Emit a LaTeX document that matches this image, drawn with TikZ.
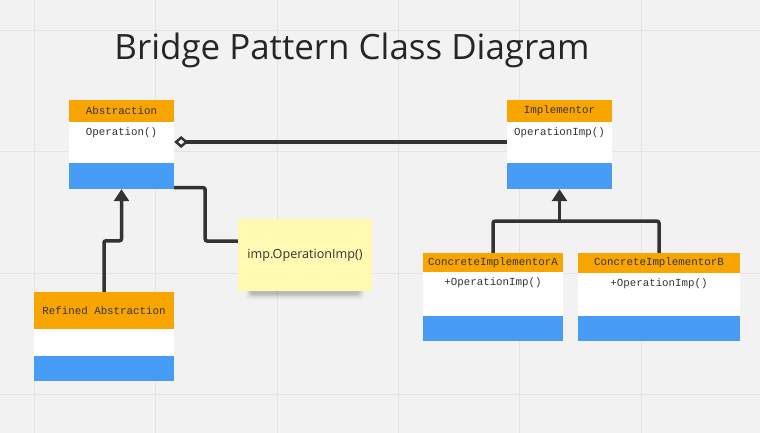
\documentclass[tikz,border=0pt]{standalone}
\usepackage{fontspec}
\setmainfont{Open Sans}
\setmonofont{Liberation Mono}
\usetikzlibrary{arrows.meta,fit,calc}
\definecolor{bg}{HTML}{F2F2F2}
\definecolor{gridc}{HTML}{E4E4E4}
\definecolor{hdr}{HTML}{F8A501}
\definecolor{blu}{HTML}{479CF5}
\definecolor{ink}{HTML}{333333}
\definecolor{notec}{HTML}{FFF9B1}
\tikzset{
  conn/.style={draw=ink, line width=3.5pt, rounded corners=2pt},
  gentip/.style={-{Triangle[length=12pt,width=15pt]}},
  aggtip/.style={-{Diamond[length=14pt,width=12pt,fill=white,line width=2.5pt]}},
  hdrtext/.style={font=\ttfamily\fontsize{10.8}{12}\selectfont, text=ink, inner sep=0},
  optext/.style={font=\ttfamily\fontsize{10.8}{12}\selectfont, text=ink, inner sep=0},
  clsnode/.style={inner sep=0, draw=none},
}
\newcommand\umlcls[9]{%
  \fill[hdr] (#2,#3) rectangle (#4,#6);
  \fill[white] (#2,#6) rectangle (#4,#7);
  \fill[blu] (#2,#7) rectangle (#4,#5);
  \node[clsnode, fit={(#2,#3)(#4,#5)}] (#1) {};
  \node[hdrtext] (#1-t) at ({(#2+#4)/2},{(#3+#6)/2}) {#8};
  \node[optext] (#1-o) at ({(#2+#4)/2},{#6+11}) {#9};
}
\begin{document}
\begin{tikzpicture}[x=1pt,y=-1pt]
\fill[bg] (0,0) rectangle (760,433);
\useasboundingbox (0,0) rectangle (760,433);
% grid
\foreach \gx in {34.5,155.8,277.1,398.4,519.7,641.0}
  \draw[gridc, line width=1pt] (\gx,0) -- (\gx,433);
\foreach \gy in {30.5,151.8,273.1,394.4}
  \draw[gridc, line width=1pt] (0,\gy) -- (760,\gy);
% title
\node[font=\fontsize{34.9}{40}\selectfont, text=black!85, anchor=base] (title) at (352,60) {Bridge Pattern Class Diagram};
% classes
\umlcls{abs}{69}{100}{174}{189}{122}{163}{Abstraction}{Operation()}
\umlcls{imp}{507}{100}{612}{189}{122}{163}{Implementor}{OperationImp()}
\umlcls{ref}{34}{292}{174}{381}{329}{356}{Refined Abstraction}{}
\umlcls{cia}{423}{253}{563}{341}{272}{316}{ConcreteImplementorA}{+OperationImp()}
\umlcls{cib}{578}{253}{740}{341}{273}{316}{ConcreteImplementorB}{+OperationImp()}
% note with shadow
\foreach \s/\o in {6/0.04,4.5/0.05,3/0.07,1.5/0.09}
  \fill[black, opacity=\o, rounded corners=3pt] (252-\s,284) rectangle (358+\s,293+\s);
\node[fill=notec, minimum width=134pt, minimum height=72pt, inner sep=0,
      font=\fontsize{12.6}{14}\selectfont, text=ink] (note) at (305,255) {imp.OperationImp()};
% connectors
\draw[conn, gentip] (ref.north) -- ++(0,-51) -| (abs.south);
\draw[conn] ([yshift=1.5pt]abs.south east) -- ++(31,0) |- ([yshift=14pt]note.west);
\draw[conn, aggtip, rounded corners=0pt] ([yshift=2.5pt]imp.west) -- ([yshift=2.5pt]abs.east);
\coordinate (j) at ($(imp.south)+(0,32)$);
\draw[conn] (cia.north) |- (j) -| (cib.north);
\draw[conn, gentip] (j) -- (imp.south);
\end{tikzpicture}
\end{document}
